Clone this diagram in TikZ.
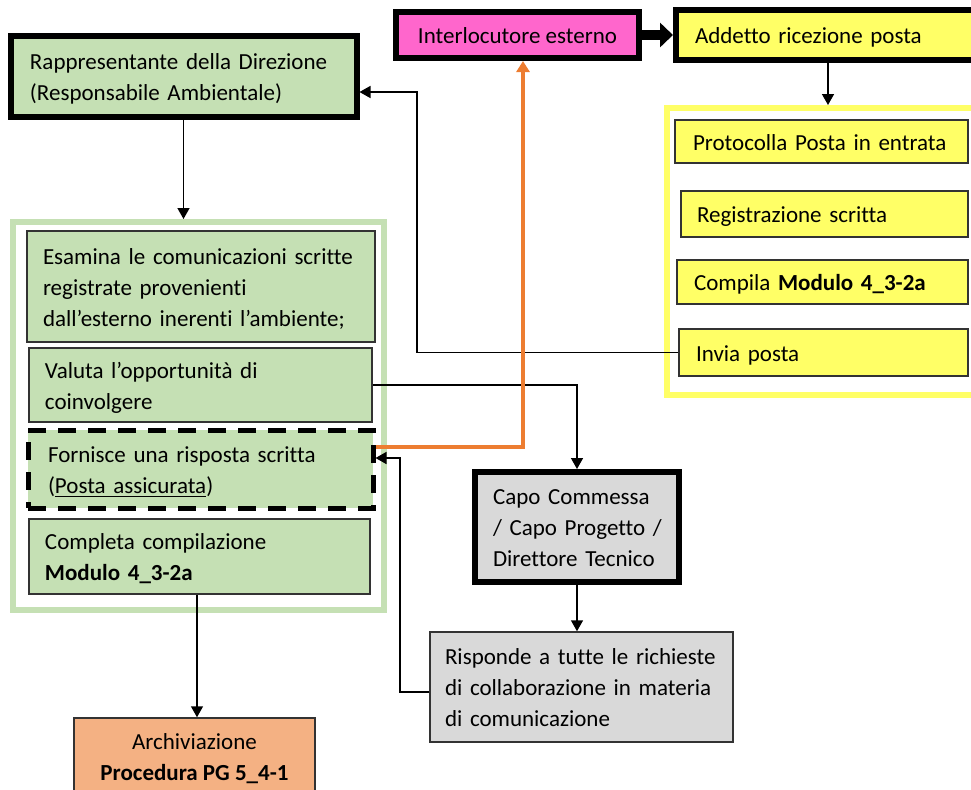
\documentclass[tikz,border=0pt]{standalone}
\usepackage{fontspec}
\setmainfont{Carlito}[Ligatures=NoCommon]
\usetikzlibrary{arrows.meta}

\definecolor{boxgreen}{HTML}{C5E0B4}
\definecolor{framegreen}{HTML}{C5E0B4}
\definecolor{boxpink}{HTML}{FF66CC}
\definecolor{boxyellow}{HTML}{FFFF66}
\definecolor{boxgray}{HTML}{D9D9D9}
\definecolor{boxpeach}{HTML}{F4B183}
\definecolor{lineorange}{HTML}{ED7D31}

\begin{document}
\begin{tikzpicture}[x=0.5pt,y=-0.5pt,
  font=\fontsize{11.5}{15.5}\selectfont,
  box/.style={rectangle, inner ysep=0pt, align=left, text=black,
    execute at begin node={\rule{0pt}{13.5pt}}, execute at end node=\strut},
  thickbd/.style={draw=black, line width=3pt},
  thinbd/.style={draw=black!80, line width=0.75pt},
  dashbd/.style={draw=black, line width=2.5pt, dash pattern=on 9pt off 6pt},
  frame/.style={rectangle, line width=3pt, inner sep=0pt},
  arr/.style={draw=black, line width=0.75pt, -{Triangle[length=5.5pt,width=6pt]}},
  oarr/.style={draw=lineorange, line width=2pt, -{Triangle[length=5.5pt,width=6.5pt]}},
  bigarr/.style={draw=black, line width=5pt, -{Triangle[length=6.5pt,width=12pt]}}
]
\useasboundingbox (0,0) rectangle (971,789);
\clip (0,0) rectangle (971,789);

% group frames
\node[frame, draw=boxyellow, minimum width=161.5pt, minimum height=143.5pt] (YF) at (828.5,251.5) {};
\node[frame, draw=framegreen, minimum width=185.5pt, minimum height=194pt] (GF) at (198.5,416) {};

% top row
\node[box, thickbd, fill=boxgreen, minimum width=173pt, minimum height=40.5pt,
      inner xsep=9.75pt, text width=153.5pt] (RD) at (183.5,76)
  {Rappresentante della Direzione\\(Responsabile Ambientale)};
\node[box, thickbd, fill=boxpink, minimum width=121.5pt, minimum height=23pt,
      inner xsep=0pt, align=center] (INT) at (517.5,35) {Interlocutore esterno};
\node[box, thickbd, fill=boxyellow, minimum width=152pt, minimum height=25pt,
      inner xsep=9.5pt, text width=133pt] (ADD) at (828,35) {Addetto ricezione posta};

% mail office steps
\node[box, thinbd, fill=boxyellow, minimum width=146.5pt, minimum height=21.5pt,
      inner xsep=9pt, text width=128.5pt] (PROT) at (821.5,141.5) {Protocolla Posta in entrata};
\node[box, thinbd, fill=boxyellow, minimum width=143.5pt, minimum height=23pt,
      inner xsep=8pt, text width=127.5pt] (REG) at (824.5,214) {Registrazione scritta};
\node[box, thinbd, fill=boxyellow, minimum width=145.5pt, minimum height=22pt,
      inner xsep=8.5pt, text width=128.5pt] (COMP) at (822.5,282) {Compila \textbf{Modulo 4\_3-2a}};
\node[box, thinbd, fill=boxyellow, minimum width=144.5pt, minimum height=23.5pt,
      inner xsep=8.5pt, text width=127.5pt] (INV) at (823.5,352.5) {Invia posta};

% environmental manager steps
\node[box, thinbd, fill=boxgreen, minimum width=174pt, minimum height=55.5pt,
      inner xsep=8pt, text width=158pt] (ESA) at (201,286.5)
  {Esamina le comunicazioni scritte\\registrate provenienti\\dall’esterno inerenti l’ambiente;};
\node[box, thinbd, fill=boxgreen, minimum width=171.5pt, minimum height=37pt,
      inner xsep=8pt, text width=155.5pt] (VAL) at (200.5,385)
  {Valuta l’opportunità di\\coinvolgere};
\node[box, dashbd, fill=boxgreen, minimum width=172.5pt, minimum height=39pt,
      inner xsep=10pt, text width=152.5pt] (FOR) at (200.5,469)
  {Fornisce una risposta scritta\\(\underline{Posta assicurata})};
\node[box, thinbd, fill=boxgreen, minimum width=170.5pt, minimum height=37.5pt,
      inner xsep=8pt, text width=154.5pt] (CPL) at (199.5,556.5)
  {Completa compilazione\\\textbf{Modulo 4\_3-2a}};

% project management
\node[box, thickbd, fill=boxgray, minimum width=102pt, minimum height=55pt,
      inner xsep=9pt, text width=84pt] (CAPO) at (577,527)
  {\mbox{Capo Commessa}\\\mbox{/ Capo Progetto /}\\\mbox{Direttore Tecnico}};
\node[box, thinbd, fill=boxgray, minimum width=151.5pt, minimum height=55pt,
      inner xsep=7.5pt, text width=136.5pt] (RISP) at (581.5,687)
  {Risponde a tutte le richieste\\di collaborazione in materia\\di comunicazione};

% archive
\node[box, thinbd, fill=boxpeach, minimum width=120.5pt, minimum height=44pt,
      inner xsep=0pt, align=center] (ARCH) at (194.5,762)
  {Archiviazione\\\textbf{Procedura PG 5\_4-1}};

% connectors
\draw[bigarr] (INT.east) -- (ADD.west);
\draw[arr] (ADD.south) -- (ADD.south |- YF.north);
\draw[arr] (INV.west) -| (417,92) -- (RD.east |- 0,92);
\draw[arr] (RD.south) -- (RD.south |- GF.north);
\draw[arr] (VAL.east) -| (CAPO.north);
\draw[oarr] (FOR.east |- 0,447) -| (INT.south -| 523,0);
\draw[arr] (CAPO.south) -- (CAPO.south |- RISP.north);
\draw[arr] (RISP.west |- 0,692) -| (400,458) -- (FOR.east |- 0,458);
\draw[arr] (CPL.south -| 197,0) -- (ARCH.north -| 197,0);
\end{tikzpicture}
\end{document}
